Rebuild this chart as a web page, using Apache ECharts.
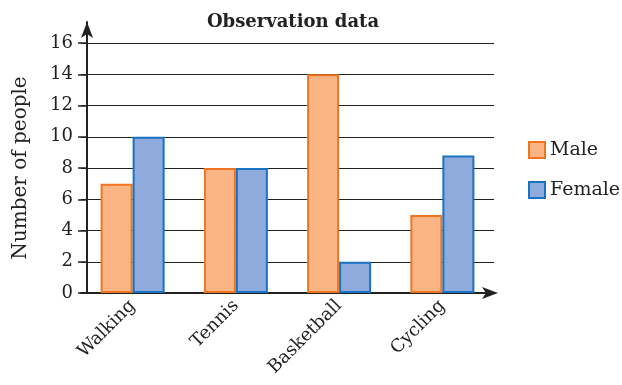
<!DOCTYPE html>
<html><head><meta charset="utf-8">
<script src="https://cdn.jsdelivr.net/npm/echarts@6/dist/echarts.min.js"></script>
<style>html,body{margin:0;padding:0;background:#fff}#c{width:622px;height:385px}</style>
</head><body><div id="c"></div>
<script>
const categories = ['Walking', 'Tennis', 'Basketball', 'Cycling'];
const maleValues = [7, 8, 14, 5];
const femaleValues = [10, 8, 2, 8.8];
const yTicks = [0, 2, 4, 6, 8, 10, 12, 14, 16];

const FONT = 'DejaVu Serif';
const chart = echarts.init(document.getElementById('c'), null, {renderer: 'canvas'});
chart.setOption({
  animation: false,
  backgroundColor: '#fff',
  textStyle: {fontFamily: FONT},
  title: {
    text: 'Observation data', left: 288, top: 8, textAlign: 'center',
    textStyle: {fontFamily: FONT, fontWeight: 'bold', fontSize: 18, color: '#222'}
  },
  legend: {
    orient: 'vertical', left: 523, top: 134, itemWidth: 16, itemHeight: 16, itemGap: 18,
    icon: 'rect',
    textStyle: {fontFamily: FONT, fontSize: 19, lineHeight: 22, color: '#222', padding: [0, 0, 0, 0]},
    data: ['Male', 'Female']
  },
  grid: [
    {left: 81, right: 128, top: 43, bottom: 92, containLabel: false, outerBoundsMode: 'none'},
    {left: 81, right: 128, top: 22, bottom: 92, containLabel: false, outerBoundsMode: 'none'}
  ],
  xAxis: [{
    type: 'category', data: categories, gridIndex: 0,
    axisLine: {show: true, symbol: ['none', 'arrow'], symbolSize: [9, 16], symbolOffset: [0, 4], lineStyle: {color: '#222', width: 2}},
    axisTick: {show: false},
    axisLabel: {rotate: 45, fontFamily: FONT, fontSize: 18, color: '#222', margin: 10},
  }, {
    type: 'category', data: categories, gridIndex: 1, show: false
  }],
  yAxis: [{
    type: 'value', gridIndex: 0, min: 0, max: 16, interval: 2, offset: -6,
    axisLine: {show: false},
    axisTick: {show: true, length: 9, lineStyle: {color: '#222', width: 1.5}},
    splitLine: {show: true, lineStyle: {color: '#222', width: 1.2}},
    axisLabel: {fontFamily: FONT, fontSize: 18, color: '#222', margin: 14,
      formatter: v => yTicks.includes(v) ? String(v) : ''},
    name: 'Number of people', nameLocation: 'middle', nameGap: 56, nameRotate: 90,
    nameTextStyle: {fontFamily: FONT, fontSize: 20, color: '#222'}
  }, {
    type: 'value', gridIndex: 1, position: 'left', min: 0, max: 1, offset: -6,
    axisLine: {show: true, symbol: ['none', 'arrow'], symbolSize: [9, 16], lineStyle: {color: '#222', width: 2}},
    axisTick: {show: false}, axisLabel: {show: false}, splitLine: {show: false}
  }],
  series: [{
    name: 'Male', type: 'bar', data: maleValues, xAxisIndex: 0, yAxisIndex: 0,
    barGap: '0%', barCategoryGap: '38%',
    itemStyle: {color: '#FBB584', borderColor: '#F07522', borderWidth: 2}
  }, {
    name: 'Female', type: 'bar', data: femaleValues, xAxisIndex: 0, yAxisIndex: 0,
    itemStyle: {color: '#8FAADC', borderColor: '#1A72C2', borderWidth: 2}
  }]
});
</script></body></html>
